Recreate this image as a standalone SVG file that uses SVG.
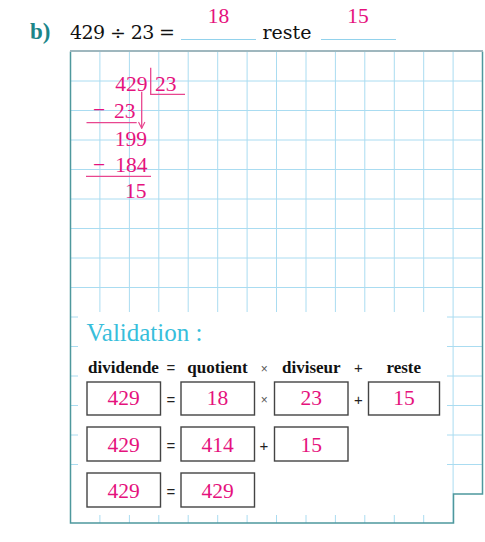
<svg xmlns="http://www.w3.org/2000/svg" width="485" height="542" viewBox="0 0 485 542">
<defs>
<style>
.grid line{stroke:#aadcf1;stroke-width:1}
.pk{fill:#e5127d;font-family:"Liberation Serif",serif;font-size:21.5px}
.blk{fill:#111;font-family:"DejaVu Serif","Liberation Serif",serif;font-size:19px}
.hd{fill:#111;font-family:"Liberation Serif",serif;font-weight:bold;font-size:17px;text-anchor:middle}
.op{fill:#222;font-family:"Liberation Sans",sans-serif;font-size:15px;text-anchor:middle}
.opx{fill:#555;font-family:"Liberation Sans",sans-serif;font-size:12px;text-anchor:middle}
.box{fill:#fff;stroke:#444;stroke-width:1.4}
.pl{stroke:#e8468f;stroke-width:1.3;fill:none}
.mid{text-anchor:middle}
.end{text-anchor:end}
</style>
<clipPath id="fr"><path d="M70.5,51.5 H482.5 V494 H453.5 V523 H70.5 Z"/></clipPath>
<marker id="ah" viewBox="0 0 10 10" refX="9" refY="5" markerWidth="8" markerHeight="8" orient="auto" markerUnits="userSpaceOnUse"><path d="M1,1 L9,5 L1,9" fill="none" stroke="#e8468f" stroke-width="1.4"/></marker>
</defs>
<rect width="485" height="542" fill="#fff"/>

<g id="title">
<text x="30" y="39" font-family="'Liberation Serif',serif" font-weight="bold" font-size="23" fill="#1b8589">b)</text>
<text class="blk" x="70" y="39" textLength="105">429 ÷ 23 =</text>
<line x1="181" y1="39.5" x2="256" y2="39.5" stroke="#92d2ec" stroke-width="1"/>
<text class="pk mid" x="218.5" y="23.3">18</text>
<text class="blk" x="262.5" y="39">reste</text>
<line x1="321" y1="39.5" x2="396" y2="39.5" stroke="#92d2ec" stroke-width="1"/>
<text class="pk mid" x="358" y="23.3">15</text>
</g>

<g id="grid-paper">
<g class="grid" clip-path="url(#fr)">
<line x1="99.9" y1="51" x2="99.9" y2="524"/>
<line x1="129.4" y1="51" x2="129.4" y2="524"/>
<line x1="158.8" y1="51" x2="158.8" y2="524"/>
<line x1="188.2" y1="51" x2="188.2" y2="524"/>
<line x1="217.7" y1="51" x2="217.7" y2="524"/>
<line x1="247.1" y1="51" x2="247.1" y2="524"/>
<line x1="276.5" y1="51" x2="276.5" y2="524"/>
<line x1="306.0" y1="51" x2="306.0" y2="524"/>
<line x1="335.4" y1="51" x2="335.4" y2="524"/>
<line x1="364.8" y1="51" x2="364.8" y2="524"/>
<line x1="394.3" y1="51" x2="394.3" y2="524"/>
<line x1="423.7" y1="51" x2="423.7" y2="524"/>
<line x1="453.1" y1="51" x2="453.1" y2="524"/>
<line x1="70" y1="81.0" x2="483" y2="81.0"/>
<line x1="70" y1="110.5" x2="483" y2="110.5"/>
<line x1="70" y1="140.0" x2="483" y2="140.0"/>
<line x1="70" y1="169.5" x2="483" y2="169.5"/>
<line x1="70" y1="199.0" x2="483" y2="199.0"/>
<line x1="70" y1="228.5" x2="483" y2="228.5"/>
<line x1="70" y1="258.0" x2="483" y2="258.0"/>
<line x1="70" y1="287.5" x2="483" y2="287.5"/>
<line x1="70" y1="317.0" x2="483" y2="317.0"/>
<line x1="70" y1="346.5" x2="483" y2="346.5"/>
<line x1="70" y1="376.0" x2="483" y2="376.0"/>
<line x1="70" y1="405.5" x2="483" y2="405.5"/>
<line x1="70" y1="435.0" x2="483" y2="435.0"/>
<line x1="70" y1="464.5" x2="483" y2="464.5"/>
</g>
<path d="M482.5,51.5 V494 H453.5 V523 H70.5 V51.5" fill="none" stroke="#4e989d" stroke-width="1.5"/>
<line x1="70" y1="51" x2="483" y2="51" stroke="#9fb7be" stroke-width="2"/>
</g>

<g id="division">
<text class="pk end" x="147.5" y="91">429</text>
<text class="pk" x="155" y="91">23</text>
<path class="pl" d="M150.7,67.7 V94.3 H185"/>
<text class="pk" x="93" y="117">−</text>
<text class="pk end" x="135.5" y="117.7">23</text>
<line class="pl" x1="86.5" y1="122.7" x2="136.7" y2="122.7"/>
<text class="pk end" x="147" y="145.7">199</text>
<text class="pk" x="93" y="172">−</text>
<text class="pk end" x="147.5" y="171.7">184</text>
<line class="pl" x1="86" y1="176.3" x2="151" y2="176.3"/>
<text class="pk end" x="146.5" y="198.3">15</text>
</g>

<g id="connectors">
<line class="pl" x1="141.7" y1="91.7" x2="141.7" y2="128.3" marker-end="url(#ah)"/>
</g>

<g id="validation">
<rect x="78" y="312" width="369" height="203" fill="#fff"/>
<text x="86.5" y="341" font-family="'Liberation Serif',serif" font-size="25" fill="#38bedb">Validation :</text>
<text class="hd" x="123.5" y="372.7">dividende</text>
<text class="op" x="171" y="373">=</text>
<text class="hd" x="217.5" y="372.7">quotient</text>
<text class="opx" x="264.2" y="373">×</text>
<text class="hd" x="311.3" y="372.7">diviseur</text>
<text class="op" x="358.5" y="373">+</text>
<text class="hd" x="403.7" y="372.7">reste</text>
</g>

<g id="row1">
<rect class="box" x="87" y="382" width="73.5" height="33"/>
<text class="pk mid" x="123.5" y="405">429</text>
<text class="op" x="171" y="405">=</text>
<rect class="box" x="181" y="382" width="73.5" height="33"/>
<text class="pk mid" x="217.5" y="405">18</text>
<text class="opx" x="264.2" y="404">×</text>
<rect class="box" x="274.5" y="382" width="73.5" height="33"/>
<text class="pk mid" x="311.3" y="405">23</text>
<text class="op" x="358.5" y="405">+</text>
<rect class="box" x="368.5" y="382" width="71" height="33"/>
<text class="pk mid" x="404" y="405">15</text>
</g>

<g id="row2">
<rect class="box" x="87" y="427" width="73.5" height="34"/>
<text class="pk mid" x="123.5" y="451.5">429</text>
<text class="op" x="171" y="450.5">=</text>
<rect class="box" x="181" y="427" width="73.5" height="34"/>
<text class="pk mid" x="217.5" y="451.5">414</text>
<text class="op" x="264" y="450.5">+</text>
<rect class="box" x="274.5" y="427" width="73.5" height="34"/>
<text class="pk mid" x="311.3" y="451.5">15</text>
</g>

<g id="row3">
<rect class="box" x="87" y="473" width="73.5" height="34"/>
<text class="pk mid" x="123.5" y="497.5">429</text>
<text class="op" x="171" y="496.5">=</text>
<rect class="box" x="181" y="473" width="73.5" height="34"/>
<text class="pk mid" x="217.5" y="497.5">429</text>
</g>
</svg>
